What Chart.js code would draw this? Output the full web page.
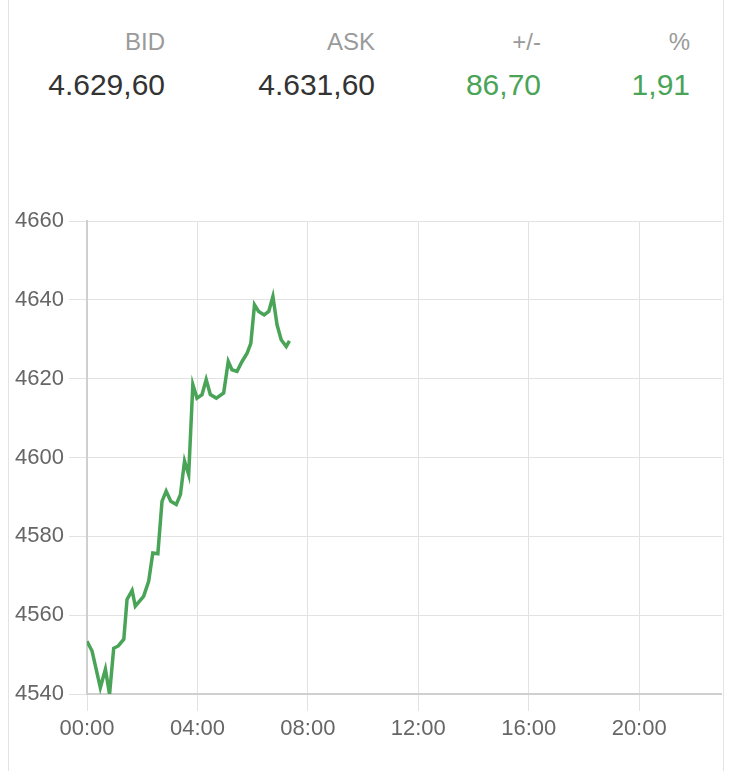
<!DOCTYPE html>
<html>
<head>
<meta charset="utf-8">
<script src="https://cdn.jsdelivr.net/npm/chart.js@4/dist/chart.umd.min.js"></script>
<style>
html,body{margin:0;padding:0;background:#fff;}
body{width:730px;height:771px;position:relative;overflow:hidden;font-family:"Liberation Sans",Arial,sans-serif;}
#card{position:absolute;left:8px;top:0;width:714px;height:771px;border-left:1px solid #e3e3e3;border-right:1px solid #e3e3e3;}
.lbl,.val{position:absolute;text-align:right;white-space:nowrap;line-height:1;}
.lbl{font-size:24px;color:#9a9a9a;top:30px;}
.val{font-size:30px;color:#333;top:70px;}
.up{color:#4aa457;}
#wrap{position:absolute;left:9px;top:203px;width:713px;height:558px;}
</style>
</head>
<body>
<div id="card"></div>
<div id="quote"></div>
<div id="wrap"><canvas id="priceChart"></canvas></div>
<script>
const quoteLabels=["BID","ASK","+/-","%"]
const quoteValues=["4.629,60","4.631,60","86,70","1,91"]
const quoteUp=[false,false,true,true]
const quoteRight=[165,375,541,690]

const times=["00:00","00:11","00:29","00:40","00:49","00:58","01:08","01:20","01:27","01:38","01:45","02:03","02:14","02:23","02:34","02:43","02:52","03:02","03:14","03:23","03:32","03:41","03:50","03:59","04:10","04:19","04:28","04:41","04:57","05:07","05:15","05:26","05:37","05:48","05:56","06:04","06:13","06:25","06:35","06:44","06:53","07:02","07:13","07:20"]
const prices=[4553.4,4550.9,4541.6,4546.3,4539.9,4551.6,4552.2,4553.9,4564.0,4566.3,4562.3,4564.8,4568.6,4575.8,4575.6,4588.9,4591.5,4588.9,4588.1,4590.6,4599.1,4595.7,4618.5,4615.1,4616.0,4619.8,4616.0,4615.1,4616.4,4624.4,4622.3,4621.9,4624.4,4626.5,4629.0,4638.8,4637.1,4636.2,4637.1,4640.9,4633.7,4629.9,4628.2,4629.6]

const Y_MIN=4540
const Y_MAX=4660
const Y_STEP=20
const X_MAX_HOURS=23
const X_STEP_HOURS=4

const quote=document.getElementById("quote")
quoteLabels.forEach((l,i)=>{
quote.innerHTML+=`<div class="lbl" style="right:${730-quoteRight[i]}px">${l}</div>`
quote.innerHTML+=`<div class="val${quoteUp[i]?" up":""}" style="right:${730-quoteRight[i]}px">${quoteValues[i]}</div>`
})

function toHours(t){
const [h,m]=t.split(":").map(Number)
return h+m/60
}

const points=times.map((t,i)=>({x:toHours(t),y:prices[i]}))

const tickFont={family:"'Liberation Sans', Arial, sans-serif",size:22}

new Chart(document.getElementById("priceChart"),{
type:"line",
data:{datasets:[{
data:points,
borderColor:"#4aa457",
borderWidth:3.5,
pointRadius:0,
tension:0,
fill:false
}]},
options:{
responsive:true,
maintainAspectRatio:false,
animation:false,
layout:{padding:0},
plugins:{legend:{display:false},tooltip:{enabled:false}},
scales:{
x:{
type:"linear",
min:0,
max:X_MAX_HOURS,
grid:{color:"#e2e2e2",lineWidth:1,tickLength:17},
border:{color:"#cfcfcf",width:2},
ticks:{
stepSize:X_STEP_HOURS,
includeBounds:false,
color:"#666",
font:tickFont,
padding:5,
maxRotation:0,
callback:v=>String(v).padStart(2,"0")+":00"
},
afterFit:s=>{s.height=67}
},
y:{
min:Y_MIN,
max:Y_MAX,
grid:{color:"#e2e2e2",lineWidth:1,tickLength:18},
border:{color:"#cfcfcf",width:2},
ticks:{stepSize:Y_STEP,color:"#666",font:tickFont,padding:5,callback:v=>String(v)},
afterFit:s=>{s.width=78}
}
}
}
})
</script>
</body>
</html>
